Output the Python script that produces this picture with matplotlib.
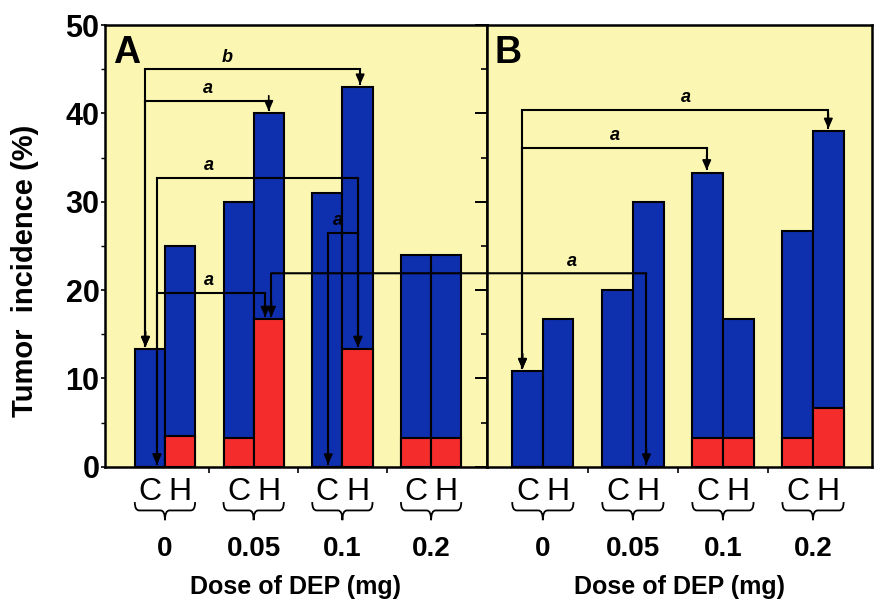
import matplotlib
matplotlib.use('Agg')
import matplotlib.pyplot as plt
from matplotlib.path import Path
from matplotlib.patches import PathPatch, ConnectionPatch
from matplotlib.transforms import blended_transform_factory
from matplotlib.ticker import MultipleLocator

plt.rcParams['font.family'] = ['Liberation Sans', 'DejaVu Sans']

doses = ['0', '0.05', '0.1', '0.2']
groups = ['C', 'H']

# panel A: tumor incidence (%), total (blue) and red part
a_ctrl_total = [13.3, 30.0, 31.0, 24.0]
a_ctrl_red = [0.0, 3.3, 0.0, 3.3]
a_hcl_total = [25.0, 40.0, 43.0, 24.0]
a_hcl_red = [3.5, 16.7, 13.3, 3.3]

# panel B
b_ctrl_total = [10.8, 20.0, 33.3, 26.7]
b_ctrl_red = [0.0, 0.0, 3.3, 3.3]
b_hcl_total = [16.7, 30.0, 16.7, 38.0]
b_hcl_red = [0.0, 0.0, 3.3, 6.7]

# significance brackets: start/end = (dose index, group, part, leg offset)
a_brackets = [
    dict(start=(0, 'C', 'total', -0.05), end=(2, 'H', 'total', 0.03), level=45.0, label='b', lx=0.70),
    dict(start=(0, 'C', 'total', -0.05), end=(1, 'H', 'total', 0.0), level=41.4, label='a', lx=0.48),
    dict(start=(0, 'C', 'red', 0.08), end=(2, 'H', 'red', 0.005), level=32.7, label='a', lx=0.49),
    dict(start=(2, 'C', 'red', 0.01), end=(2, 'H', 'red', 0.005), level=26.5, label='a', lx=1.95),
    dict(start=(0, 'C', 'red', 0.08), end=(1, 'H', 'red', -0.04), level=19.7, label='a', lx=0.49),
]
b_brackets = [
    dict(start=(0, 'C', 'total', -0.056), end=(3, 'H', 'total', 0.0), level=40.4, label='a', lx=1.59),
    dict(start=(0, 'C', 'total', -0.056), end=(2, 'C', 'total', -0.01), level=36.1, label='a', lx=0.80),
]
# bracket running from panel A into panel B
cross_bracket = dict(start=(1, 'H', 'red', 0.03), end=(1, 'H', 'red', -0.02), level=21.9, label='a', lx=0.32)

BG = '#FBF7B2'
BLUE = '#0E2FAE'
RED = '#F42C2C'
BAR_W = 0.34

fig = plt.figure(figsize=(8.77, 6.03), dpi=100)
axA = fig.add_axes([0.1197, 0.2260, 0.4356, 0.7325])
axB = fig.add_axes([0.5553, 0.2260, 0.4390, 0.7325])

values_A = {'C': {'total': a_ctrl_total, 'red': a_ctrl_red},
            'H': {'total': a_hcl_total, 'red': a_hcl_red}}
values_B = {'C': {'total': b_ctrl_total, 'red': b_ctrl_red},
            'H': {'total': b_hcl_total, 'red': b_hcl_red}}


def bar_x(i, grp):
    return i + (-BAR_W / 2 if grp == 'C' else BAR_W / 2)


def leg_point(values, spec):
    i, grp, part, dx = spec
    return bar_x(i, grp) + dx, values[grp][part][i]


def arrow_down(ax, x, y):
    ax.annotate('', xy=(x, y + 0.25), xytext=(x, y + 2.0),
                arrowprops=dict(arrowstyle='-|>,head_length=0.5,head_width=0.22',
                                mutation_scale=12, color='black', lw=1.2,
                                shrinkA=0, shrinkB=0), zorder=6)


def leg(ax, x, y, level):
    ax.plot([x, x], [y + 0.25, level], color='black', lw=1.5, zorder=5,
            solid_capstyle='butt', clip_on=False)
    arrow_down(ax, x, y)


def draw_bracket(ax, values, br):
    x0, y0 = leg_point(values, br['start'])
    x1, y1 = leg_point(values, br['end'])
    leg(ax, x0, y0, br['level'])
    leg(ax, x1, y1, br['level'])
    ax.plot([x0, x1], [br['level'], br['level']], color='black', lw=1.5, zorder=5)
    ax.text(br['lx'], br['level'] + 0.4, br['label'], ha='center', va='bottom',
            fontsize=13, fontweight='bold', style='italic', zorder=7)


def brace(ax, x0, x1):
    tr = blended_transform_factory(ax.transData, ax.transAxes)
    xc = (x0 + x1) / 2
    h = 0.05
    yt, ym, yb = -0.080, -0.099, -0.121
    verts = [(x0, yt), (x0, ym), (x0 + h, ym), (xc - h, ym), (xc, ym), (xc, yb),
             (xc, ym), (xc + h, ym), (x1 - h, ym), (x1, ym), (x1, yt)]
    codes = [Path.MOVETO, Path.CURVE3, Path.CURVE3, Path.LINETO, Path.CURVE3, Path.CURVE3,
             Path.CURVE3, Path.CURVE3, Path.LINETO, Path.CURVE3, Path.CURVE3]
    ax.add_patch(PathPatch(Path(verts, codes), transform=tr, fill=False,
                           lw=1.3, color='black', clip_on=False))


def draw_panel(ax, values, letter, xlim):
    ax.set_facecolor(BG)
    for grp in groups:
        xs = [bar_x(i, grp) for i in range(len(doses))]
        ax.bar(xs, values[grp]['total'], BAR_W, color=BLUE, edgecolor='black', lw=1.5, zorder=2)
        ax.bar(xs, values[grp]['red'], BAR_W, color=RED, edgecolor='black', lw=1.5, zorder=3)
    ax.set_xlim(*xlim)
    ax.set_ylim(0, 50)
    ax.set_xticks([i + 0.5 for i in range(len(doses) - 1)])
    ax.set_xticklabels([])
    ax.tick_params(axis='x', direction='out', length=4, width=1.2)
    ax.yaxis.set_major_locator(MultipleLocator(10))
    ax.yaxis.set_minor_locator(MultipleLocator(5))
    for sp in ax.spines.values():
        sp.set_linewidth(1.8)
    ax.text(0.02, 0.978, letter, transform=ax.transAxes, ha='left', va='top',
            fontsize=27, fontweight='bold')

    tr = blended_transform_factory(ax.transData, ax.transAxes)
    for i, d in enumerate(doses):
        for grp in groups:
            ax.text(bar_x(i, grp), -0.057, grp, transform=tr, ha='center', va='center',
                    fontsize=23)
        brace(ax, i - BAR_W, i + BAR_W)
        ax.text(i, -0.186, d, transform=tr, ha='center', va='center',
                fontsize=20, fontweight='bold')
    ax.text(0.5, -0.272, 'Dose of DEP (mg)', transform=ax.transAxes, ha='center',
            va='center', fontsize=18, fontweight='bold')


draw_panel(axA, values_A, 'A', (-0.676, 3.63))
draw_panel(axB, values_B, 'B', (-0.62, 3.655))

axA.tick_params(axis='y', which='major', direction='out', length=3, width=1.2, pad=1,
                labelsize=22)
axA.tick_params(axis='y', which='minor', direction='out', length=3, width=1.0)
for lab in axA.get_yticklabels():
    lab.set_fontweight('bold')
axA.set_ylabel('Tumor  incidence (%)', fontsize=21, fontweight='bold')
axA.yaxis.set_label_coords(-0.172, 0.443)

axB.tick_params(axis='y', which='major', direction='out', length=9, width=1.4, labelleft=False)
axB.tick_params(axis='y', which='minor', direction='out', length=4, width=1.2)

for br in a_brackets:
    draw_bracket(axA, values_A, br)
for br in b_brackets:
    draw_bracket(axB, values_B, br)

# bracket linking panel A and panel B
xa, ya = leg_point(values_A, cross_bracket['start'])
xb, yb = leg_point(values_B, cross_bracket['end'])
lvl = cross_bracket['level']
leg(axA, xa, ya, lvl)
leg(axB, xb, yb, lvl)
con = ConnectionPatch(xyA=(xa, lvl), coordsA=axA.transData, xyB=(xb, lvl), coordsB=axB.transData,
                      color='black', lw=1.5, zorder=5)
fig.add_artist(con)
axB.text(cross_bracket['lx'], lvl + 0.4, cross_bracket['label'], ha='center', va='bottom',
         fontsize=13, fontweight='bold', style='italic', zorder=7)

fig.savefig('out.png', dpi=100, facecolor='white')
